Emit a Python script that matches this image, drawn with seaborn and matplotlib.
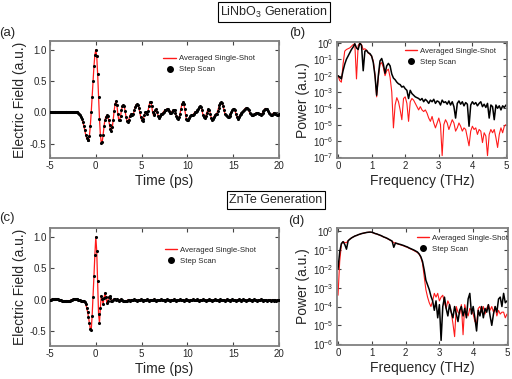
import numpy as np
import matplotlib
matplotlib.use('Agg')
import matplotlib.pyplot as plt
from matplotlib.lines import Line2D
from matplotlib.ticker import LogLocator, NullLocator
import seaborn as sns

# ==========================================
# data
# ==========================================
time_ps = np.round(np.linspace(-5, 20, 251), 2)

# LiNbO3 generation, electric field (a.u.), 0.1 ps step
linbo3_field = [
    0.00, 0.00, 0.00, 0.00, 0.00, 0.00, 0.00, 0.00, 0.00, 0.00,
    0.00, 0.00, 0.00, 0.00, 0.00, 0.00, 0.00, 0.00, 0.00, 0.00,
    0.00, 0.00, 0.00, 0.00, 0.00, 0.00, 0.00, 0.00, 0.00, 0.00,
    0.00, -0.01, -0.02, -0.04, -0.07, -0.11, -0.16, -0.22, -0.29, -0.36,
    -0.41, -0.44, -0.45, -0.38, -0.22, 0.00, 0.25, 0.50, 0.74, 0.92,
    1.00, 0.90, 0.62, 0.25, -0.10, -0.36, -0.49, -0.47, -0.36, -0.22,
    -0.12, -0.07, -0.05, -0.06, -0.12, -0.20, -0.27, -0.30, -0.24, -0.12,
    0.02, 0.13, 0.18, 0.12, -0.02, -0.12, -0.13, -0.06, 0.03, 0.10,
    0.12, 0.10, 0.02, -0.07, -0.14, -0.16, -0.12, -0.06, -0.03, -0.03,
    -0.05, -0.03, 0.03, 0.09, 0.12, 0.13, 0.12, 0.07, 0.00, -0.07,
    -0.12, -0.14, -0.10, -0.04, 0.00, 0.00, -0.02, 0.02, 0.10, 0.16,
    0.17, 0.10, 0.00, -0.05, -0.02, 0.03, 0.05, 0.01, -0.06, -0.09,
    -0.06, -0.03, -0.03, -0.01, 0.01, 0.03, 0.03, 0.04, 0.06, 0.05,
    0.02, -0.01, -0.01, 0.01, 0.03, 0.04, 0.03, -0.01, -0.06, -0.09,
    -0.10, -0.08, -0.02, 0.06, 0.13, 0.16, 0.14, 0.06, -0.04, -0.11,
    -0.13, -0.12, -0.09, -0.06, -0.05, -0.04, -0.04, -0.02, 0.00, 0.01,
    0.02, 0.03, 0.05, 0.08, 0.10, 0.09, 0.03, -0.04, -0.08, -0.09,
    -0.06, -0.01, 0.03, 0.05, 0.04, -0.02, -0.09, -0.12, -0.11, -0.07,
    -0.04, -0.03, -0.02, 0.02, 0.07, 0.12, 0.15, 0.16, 0.15, 0.10,
    0.03, -0.02, -0.04, -0.06, -0.08, -0.08, -0.06, -0.03, 0.00, 0.03,
    0.05, 0.06, 0.03, -0.03, -0.08, -0.10, -0.08, -0.05, -0.03, -0.01,
    0.00, 0.02, 0.04, 0.06, 0.07, 0.07, 0.06, 0.03, -0.01, -0.03,
    -0.04, -0.04, -0.04, -0.03, -0.02, -0.01, -0.01, -0.01, -0.02, -0.03,
    -0.04, -0.03, -0.01, 0.02, 0.04, 0.06, 0.06, 0.05, 0.02, -0.01,
    -0.03, -0.05, -0.05, -0.03, -0.01, -0.01, -0.02, -0.03, -0.04, -0.04,
    -0.03,
]

# ZnTe generation, electric field (a.u.), 0.1 ps step
znte_field = [
    0.00, 0.00, 0.01, 0.01, 0.01, 0.01, 0.01, 0.01, 0.01, 0.01,
    0.00, 0.00, 0.00, -0.01, -0.01, -0.02, -0.02, -0.02, -0.02, -0.02,
    -0.02, -0.01, -0.01, 0.00, 0.00, 0.01, 0.01, 0.01, 0.01, 0.01,
    0.01, 0.00, 0.00, 0.00, -0.01, -0.01, -0.02, -0.02, -0.03, -0.07,
    -0.12, -0.19, -0.27, -0.37, -0.46, -0.48, -0.25, 0.05, 0.38, 0.72,
    1.00, 0.78, 0.30, -0.22, -0.36, -0.12, 0.07, 0.02, -0.07, 0.03,
    0.11, 0.05, -0.05, -0.02, 0.04, 0.06, 0.03, -0.01, -0.02, 0.00,
    0.02, 0.01, 0.00, 0.01, 0.00, -0.01, 0.00, 0.01, 0.00, 0.00,
    -0.01, -0.02, -0.02, -0.02, -0.01, 0.00, 0.00, -0.01, 0.00, 0.00,
    0.00, 0.00, 0.01, 0.00, 0.00, -0.01, 0.00, 0.00, 0.00, 0.01,
    0.00, 0.00, -0.01, 0.00, 0.00, 0.00, 0.01, 0.00, -0.01, 0.00,
    0.00, 0.00, 0.00, 0.01, 0.00, 0.00, -0.01, 0.00, 0.00, 0.00,
    0.00, 0.01, 0.00, 0.00, 0.00, -0.01, 0.00, 0.00, 0.01, 0.00,
    0.00, -0.01, 0.00, 0.00, 0.00, 0.01, 0.00, 0.00, -0.01, 0.00,
    0.00, 0.00, 0.01, 0.00, 0.00, 0.00, -0.01, 0.00, 0.00, 0.01,
    0.00, 0.00, -0.01, 0.00, 0.00, 0.00, 0.01, 0.00, 0.00, 0.00,
    0.00, 0.01, 0.00, -0.01, 0.00, 0.00, 0.00, 0.01, 0.00, 0.00,
    -0.01, 0.00, 0.00, 0.00, 0.01, 0.00, 0.00, -0.01, 0.00, 0.00,
    0.01, 0.00, 0.00, 0.00, -0.01, 0.00, 0.01, 0.00, 0.00, 0.00,
    0.00, -0.01, 0.00, 0.01, 0.00, 0.00, 0.00, -0.01, 0.00, 0.01,
    0.00, 0.00, 0.00, -0.01, 0.00, 0.00, 0.01, 0.00, 0.00, -0.01,
    0.00, 0.01, 0.00, 0.00, -0.01, 0.00, 0.00, 0.01, 0.00, 0.00,
    -0.01, 0.00, 0.00, 0.01, 0.00, 0.00, -0.01, 0.00, 0.00, 0.00,
    0.01, 0.00, -0.01, 0.00, 0.00, 0.00, 0.00, -0.01, 0.00, 0.00,
    0.00, -0.01, 0.00, 0.00, -0.01, 0.00, 0.00, -0.01, 0.00, 0.00,
    0.00,
]

freq_thz = np.round(np.linspace(0, 5, 101), 2)

# spectra stored as log10(power), 0.05 THz step
linbo3_step_log = [
    -2.0, -2.1, -2.2, -1.7, -1.3, -1.0, -0.8, -0.6, -0.4, -0.25,
    -0.05, -0.3, -0.4, 0.0, -0.15, -1.7, -0.5, -0.45, -0.6, -0.65,
    -0.8, -1.2, -2.0, -3.2, -2.0, -1.1, -0.95, -1.3, -1.85, -1.4,
    -1.25, -1.4, -1.9, -2.15, -2.25, -2.4, -2.5, -2.55, -2.7, -2.65,
    -2.8, -2.9, -3.4, -2.9, -3.1, -3.2, -3.3, -3.35, -3.4, -3.5,
    -3.4, -3.6, -3.45, -3.55, -3.7, -3.5, -3.6, -3.45, -3.7, -3.55,
    -3.6, -3.8, -3.5, -3.65, -3.6, -3.75, -3.55, -3.8, -3.6, -3.9,
    -4.6, -3.7, -3.55, -3.75, -3.6, -3.85, -3.65, -3.75, -5.1, -3.8,
    -3.6, -3.75, -3.65, -3.85, -3.7, -3.6, -3.9, -3.75, -3.95, -3.7,
    -4.6, -3.8, -3.9, -4.7, -3.8, -4.0, -3.85, -4.1, -3.85, -3.95,
    -3.8,
]
linbo3_avg_log = [
    -2.0, -2.3, -2.4, -1.3, -0.5, -0.4, -0.35, -0.3, -0.2, -0.1,
    -0.05, -2.2, -0.15, 0.0, -0.1, -0.4, -0.35, -0.45, -0.6, -0.7,
    -0.8, -1.1, -1.9, -3.3, -2.1, -1.3, -1.2, -1.5, -2.0, -1.7,
    -1.6, -2.1, -3.0, -5.2, -3.8, -3.35, -3.6, -4.1, -4.7, -3.4,
    -3.3, -3.7, -4.8, -3.6, -3.4, -3.5, -3.7, -3.9, -4.1, -3.9,
    -4.1, -4.2, -4.1, -4.3, -4.6, -4.8, -4.5, -4.9, -5.2, -4.9,
    -4.6, -5.0, -6.9, -5.0, -4.7, -4.9, -5.3, -5.0, -4.7, -4.9,
    -5.4, -5.2, -4.9, -5.1, -5.4, -5.2, -5.3, -5.8, -6.3, -5.4,
    -5.1, -5.3, -5.2, -5.6, -5.3, -5.4, -6.1, -5.5, -5.7, -6.9,
    -5.6, -5.3, -5.5, -5.3, -5.8, -6.4, -5.6, -5.2, -5.5, -5.1,
    -5.0,
]
znte_step_log = [
    -2.0, -1.1, -0.65, -0.55, -0.7, -0.95, -0.5, -0.42, -0.35, -0.3,
    -0.25, -0.22, -0.18, -0.15, -0.12, -0.1, -0.08, -0.06, -0.05, -0.04,
    -0.05, -0.08, -0.12, -0.14, -0.18, -0.21, -0.25, -0.3, -0.33, -0.37,
    -0.42, -0.47, -0.52, -0.85, -0.62, -0.65, -0.68, -0.7, -0.73, -0.76,
    -0.8, -0.83, -0.88, -0.92, -0.96, -1.0, -1.05, -1.1, -1.2, -1.35,
    -1.6, -2.05, -2.6, -2.85, -3.1, -3.45, -3.7, -4.2, -3.7, -4.6,
    -3.9, -5.8, -4.0, -3.5, -4.1, -4.5, -3.9, -4.3, -4.6, -4.0,
    -4.4, -4.8, -4.2, -4.0, -4.5, -4.1, -4.6, -3.6, -3.3, -4.4,
    -4.0, -4.6, -5.3, -4.2, -4.5, -4.0, -4.6, -4.1, -4.3, -3.9,
    -4.5, -5.0, -4.4, -4.0, -4.3, -3.6, -3.5, -4.0, -3.3, -3.8,
    -3.7,
]
znte_avg_log = [
    -3.4, -1.6, -0.7, -0.55, -0.6, -0.6, -0.5, -0.42, -0.35, -0.3,
    -0.25, -0.22, -0.18, -0.15, -0.12, -0.1, -0.08, -0.06, -0.05, -0.05,
    -0.06, -0.09, -0.12, -0.15, -0.18, -0.22, -0.26, -0.3, -0.34, -0.38,
    -0.43, -0.48, -0.53, -0.6, -0.63, -0.66, -0.69, -0.72, -0.75, -0.78,
    -0.82, -0.85, -0.9, -0.94, -0.98, -1.03, -1.08, -1.13, -1.22, -1.38,
    -1.7, -2.4, -3.1, -3.5, -3.8, -4.0, -3.7, -3.3, -3.5, -3.3,
    -3.7, -3.5, -3.4, -3.8, -4.1, -3.7, -3.9, -4.3, -4.9, -5.6,
    -4.0, -4.3, -4.4, -3.9, -5.5, -3.9, -4.3, -4.5, -4.1, -4.2,
    -4.4, -4.8, -4.9, -4.1, -4.0, -4.3, -4.0, -4.4, -4.1, -3.9,
    -4.2, -4.0, -4.3, -4.0, -4.5, -4.2, -4.4, -4.3, -4.3, -4.6,
    -4.4,
]

# ==========================================
# style
# ==========================================
sns.set_theme(style='ticks')
plt.rcParams['font.family'] = ['Liberation Sans', 'DejaVu Sans']
plt.rcParams['mathtext.fontset'] = 'custom'
plt.rcParams['mathtext.rm'] = 'Liberation Sans'
plt.rcParams['mathtext.it'] = 'Liberation Sans:italic'

RED = '#ff1a1a'
FRAME = '#808080'


def style_axes(ax):
    ax.tick_params(direction='in', length=3, width=0.8, color='#444444',
                   top=True, right=True, labelsize=7, pad=2.5)
    for s in ax.spines.values():
        s.set_color(FRAME)
        s.set_linewidth(1.3)


def add_legend(ax, x0, y0):
    handles = [Line2D([], [], color=RED, lw=1.0, label='Averaged Single-Shot'),
               Line2D([], [], color='black', marker='o', ls='none', ms=4, label='Step Scan')]
    ax.legend(handles=handles, loc='upper left', bbox_to_anchor=(x0, y0),
              frameon=False, fontsize=5.6, handlelength=1.6, handletextpad=0.35,
              labelspacing=0.45, borderpad=0, borderaxespad=0)


def time_panel(ax, y):
    sns.lineplot(x=time_ps, y=y, ax=ax, color=RED, lw=0.9)
    sns.scatterplot(x=time_ps, y=y, ax=ax, color='black', s=5, linewidth=0, zorder=3)
    ax.set_xlim(-5, 20)
    ax.set_ylim(-0.73, 1.14)
    ax.set_xticks([-5, 0, 5, 10, 15, 20])
    ax.set_yticks([-0.5, 0.0, 0.5, 1.0])
    ax.set_yticklabels(['-0.5', '0.0', '0.5', '1.0'])
    ax.set_xticklabels(['-5', '0', '5', '10', '15', '20'])
    ax.set_xlabel('Time (ps)', fontsize=10, labelpad=1.5)
    ax.set_ylabel('Electric Field (a.u.)', fontsize=10, labelpad=2)
    style_axes(ax)


def spec_panel(ax, avg_log, step_log, ylim):
    sns.lineplot(x=freq_thz, y=np.power(10.0, avg_log), ax=ax, color=RED, lw=0.8)
    sns.lineplot(x=freq_thz, y=np.power(10.0, step_log), ax=ax, color='black', lw=1.1)
    ax.set_yscale('log')
    ax.set_xlim(-0.03, 5.03)
    ax.set_ylim(*ylim)
    ax.yaxis.set_major_locator(LogLocator(base=10, numticks=12))
    ax.yaxis.set_minor_locator(NullLocator())
    ax.set_xticks([0, 1, 2, 3, 4, 5])
    ax.set_xlabel('Frequency (THz)', fontsize=10, labelpad=1.5)
    ax.set_ylabel('Power (a.u.)', fontsize=10, labelpad=2)
    style_axes(ax)


W, H = 512, 379
fig = plt.figure(figsize=(W / 100, H / 100), dpi=100)


def px_axes(l, t, r, b):
    return fig.add_axes([l / W, 1 - b / H, (r - l) / W, (b - t) / H])


ax_a = px_axes(50, 41, 279, 158)
ax_b = px_axes(337, 42, 507, 158)
ax_c = px_axes(50, 228, 279, 346)
ax_d = px_axes(337, 228, 508, 345)

time_panel(ax_a, linbo3_field)
time_panel(ax_c, znte_field)
spec_panel(ax_b, linbo3_avg_log, linbo3_step_log, (9e-8, 1.15))
spec_panel(ax_d, znte_avg_log, znte_step_log, (9e-7, 1.5))

# legend anchors (axes fraction), placed to match the reference
add_legend(ax_a, 0.495, 0.88)
add_legend(ax_c, 0.50, 0.845)
add_legend(ax_b, 0.40, 0.955)
add_legend(ax_d, 0.465, 0.945)

# panel letters
for x, y, s in [(7, 33, '(a)'), (297, 33, '(b)'), (7, 218, '(c)'), (296, 221, '(d)')]:
    fig.text(x / W, 1 - y / H, s, fontsize=9.5, ha='center', va='center')

box = dict(boxstyle='square,pad=0.22', fc='white', ec='black', lw=0.8)
fig.text(274 / W, 1 - 12 / H, r'LiNbO$_3$ Generation', fontsize=9, ha='center', va='center', bbox=box)
fig.text(276 / W, 1 - 200 / H, 'ZnTe Generation', fontsize=9, ha='center', va='center', bbox=box)

fig.savefig('out.png', dpi=100)
